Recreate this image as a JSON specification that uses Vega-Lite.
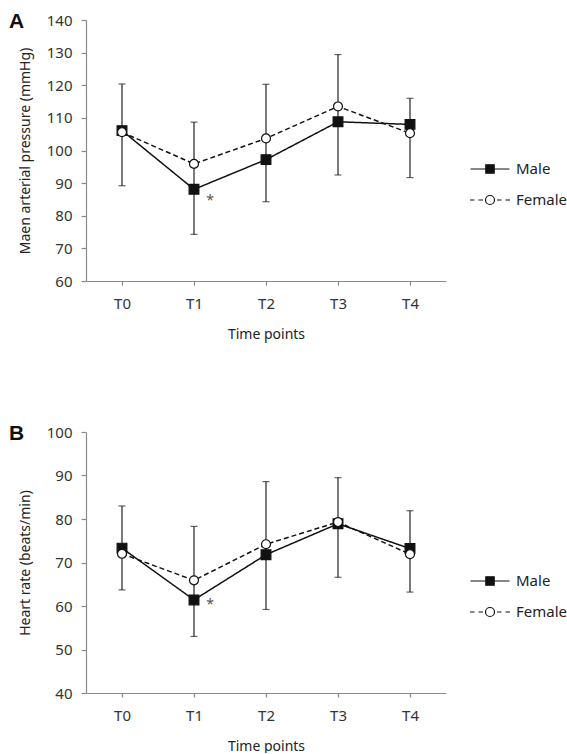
{
  "$schema": "https://vega.github.io/schema/vega-lite/v6.json",
  "background": "white",
  "padding": {"left": 9, "top": 11, "right": 0, "bottom": 0},
  "datasets": {
    "map": [
      {"time": "T0", "sex": "Male", "value": 106.1},
      {"time": "T1", "sex": "Male", "value": 88.1},
      {"time": "T2", "sex": "Male", "value": 97.2},
      {"time": "T3", "sex": "Male", "value": 108.8},
      {"time": "T4", "sex": "Male", "value": 108.0},
      {"time": "T0", "sex": "Female", "value": 105.6},
      {"time": "T1", "sex": "Female", "value": 95.9},
      {"time": "T2", "sex": "Female", "value": 103.7},
      {"time": "T3", "sex": "Female", "value": 113.5},
      {"time": "T4", "sex": "Female", "value": 105.3}
    ],
    "mapErr": [
      {"time": "T0", "lo": 89.2, "hi": 120.4},
      {"time": "T1", "lo": 74.3, "hi": 108.7},
      {"time": "T2", "lo": 84.3, "hi": 120.3},
      {"time": "T3", "lo": 92.5, "hi": 129.4},
      {"time": "T4", "lo": 91.7, "hi": 116.0}
    ],
    "mapStar": [{"time": "T1", "value": 84.5, "label": "*"}],
    "hr": [
      {"time": "T0", "sex": "Male", "value": 73.3},
      {"time": "T1", "sex": "Male", "value": 61.4},
      {"time": "T2", "sex": "Male", "value": 71.8},
      {"time": "T3", "sex": "Male", "value": 78.9},
      {"time": "T4", "sex": "Male", "value": 73.2},
      {"time": "T0", "sex": "Female", "value": 72.0},
      {"time": "T1", "sex": "Female", "value": 65.9},
      {"time": "T2", "sex": "Female", "value": 74.2},
      {"time": "T3", "sex": "Female", "value": 79.3},
      {"time": "T4", "sex": "Female", "value": 71.9}
    ],
    "hrErr": [
      {"time": "T0", "lo": 63.7, "hi": 83.0},
      {"time": "T1", "lo": 53.0, "hi": 78.3},
      {"time": "T2", "lo": 59.2, "hi": 88.6},
      {"time": "T3", "lo": 66.6, "hi": 89.5},
      {"time": "T4", "lo": 63.2, "hi": 81.9}
    ],
    "hrStar": [{"time": "T1", "value": 60.3, "label": "*"}]
  },
  "config": {
    "font": "Noto Sans",
    "view": {"stroke": null},
    "axis": {
      "grid": false,
      "domainColor": "#8a8a8a",
      "tickColor": "#8a8a8a",
      "domainWidth": 1.2,
      "tickWidth": 1.2,
      "labelColor": "#333333",
      "titleColor": "#222222",
      "labelFontSize": 15,
      "titleFontSize": 14,
      "titleFontWeight": "normal",
      "labelOverlap": false,
      "labelSeparation": 0
    },
    "axisY": {"labelOverlap": false, "tickSize": 5, "labelPadding": 9, "titlePadding": 14},
    "title": {"font": "Liberation Sans", "fontSize": 21, "fontWeight": "bold", "color": "#111111", "anchor": "start", "frame": "group", "dx": -77, "offset": -19},
    "legend": {
      "orient": "none", "legendX": 393, "legendY": 138, "title": null, "padding": 0,
      "symbolSize": 400, "symbolOpacity": 1, "symbolStrokeWidth": 1.2,
      "labelOffset": 15, "rowPadding": 12, "labelFontSize": 15, "labelColor": "#222222"
    }
  },
  "spacing": 82,
  "resolve": {
    "scale": {"y": "independent", "shape": "independent", "fill": "independent", "stroke": "independent"},
    "legend": {"shape": "independent", "fill": "independent", "stroke": "independent"}
  },
  "vconcat": [
    {
      "width": 360,
      "height": 261,
      "title": {"text": "A"},
      "resolve": {"scale": {"shape": "independent", "fill": "independent", "stroke": "independent"}, "legend": {"shape": "independent", "fill": "independent", "stroke": "independent"}},
      "layer": [
        {
          "data": {"name": "mapErr"},
          "mark": {"type": "rule", "color": "#222222", "strokeWidth": 1.2},
          "encoding": {
            "x": {"field": "time", "type": "ordinal", "scale": {"type": "point", "padding": 0.5}, "axis": {"title": "Time points", "labelAngle": 0, "tickSize": 4, "labelPadding": 11, "titlePadding": 16}},
            "y": {"field": "lo", "type": "quantitative", "scale": {"domain": [60, 140], "nice": false, "zero": false}, "axis": {"title": "Maen arterial pressure (mmHg)", "values": [60, 70, 80, 90, 100, 110, 120, 130, 140], "labelOverlap": false}},
            "y2": {"field": "hi"}
          }
        },
        {
          "data": {"name": "mapErr"},
          "mark": {"type": "tick", "color": "#222222", "thickness": 1.2, "size": 7},
          "encoding": {
            "x": {"field": "time", "type": "ordinal"},
            "y": {"field": "lo", "type": "quantitative", "axis": {"title": "Maen arterial pressure (mmHg)", "values": [60, 70, 80, 90, 100, 110, 120, 130, 140], "labelOverlap": false}}
          }
        },
        {
          "data": {"name": "mapErr"},
          "mark": {"type": "tick", "color": "#222222", "thickness": 1.2, "size": 7},
          "encoding": {
            "x": {"field": "time", "type": "ordinal"},
            "y": {"field": "hi", "type": "quantitative", "axis": {"title": "Maen arterial pressure (mmHg)", "values": [60, 70, 80, 90, 100, 110, 120, 130, 140], "labelOverlap": false}}
          }
        },
        {
          "data": {"name": "map"},
          "mark": {"type": "line", "color": "#111111", "strokeWidth": 1.5},
          "encoding": {
            "x": {"field": "time", "type": "ordinal"},
            "y": {"field": "value", "type": "quantitative", "axis": {"title": "Maen arterial pressure (mmHg)", "values": [60, 70, 80, 90, 100, 110, 120, 130, 140], "labelOverlap": false}},
            "strokeDash": {"field": "sex", "type": "nominal", "scale": {"domain": ["Male", "Female"], "range": [[1, 0], [5, 3]]}, "legend": null}
          }
        },
        {
          "data": {"name": "map"},
          "mark": {"type": "point", "filled": true, "stroke": "#111111", "strokeWidth": 1.2, "opacity": 1},
          "encoding": {
            "x": {"field": "time", "type": "ordinal"},
            "y": {"field": "value", "type": "quantitative", "axis": {"title": "Maen arterial pressure (mmHg)", "values": [60, 70, 80, 90, 100, 110, 120, 130, 140], "labelOverlap": false}},
            "fill": {"condition": {"test": "datum.sex === 'Male'", "value": "#111111"}, "value": "#ffffff"},
            "size": {"condition": {"test": "datum.sex === 'Male'", "value": 95}, "value": 80},
            "shape": {"field": "sex", "type": "nominal", "scale": {"domain": ["Male", "Female"], "range": ["square", "circle"]}, "legend": null}
          }
        },
        {
          "data": {"name": "map"},
          "mark": {"type": "point", "filled": true, "strokeWidth": 1.2, "opacity": 0},
          "encoding": {
            "x": {"field": "time", "type": "ordinal"},
            "y": {"field": "value", "type": "quantitative", "axis": {"title": "Maen arterial pressure (mmHg)", "values": [60, 70, 80, 90, 100, 110, 120, 130, 140], "labelOverlap": false}},
            "fill": {"field": "sex", "type": "nominal", "scale": {"domain": ["Male", "Female"], "range": ["#111111", "#ffffff"]}},
            "stroke": {"field": "sex", "type": "nominal", "scale": {"domain": ["Male", "Female"], "range": ["#111111", "#111111"]}},
            "shape": {"field": "sex", "type": "nominal", "scale": {"domain": ["Male", "Female"], "range": ["M-1.95,0H1.95M-0.42,-0.42H0.42V0.42H-0.42Z", "M-2,0H-1.55M-1.15,0H-0.7M0.7,0H1.15M1.55,0H2M0.45,0A0.45,0.45 0 1,1 -0.45,0A0.45,0.45 0 1,1 0.45,0Z"]}}
          }
        },
        {
          "data": {"name": "mapStar"},
          "mark": {"type": "text", "dx": 16, "color": "#555555", "fontSize": 14, "baseline": "middle"},
          "encoding": {
            "x": {"field": "time", "type": "ordinal"},
            "y": {"field": "value", "type": "quantitative", "axis": {"title": "Maen arterial pressure (mmHg)", "values": [60, 70, 80, 90, 100, 110, 120, 130, 140], "labelOverlap": false}},
            "text": {"field": "label"}
          }
        }
      ]
    },
    {
      "width": 360,
      "height": 261,
      "title": {"text": "B"},
      "resolve": {"scale": {"shape": "independent", "fill": "independent", "stroke": "independent"}, "legend": {"shape": "independent", "fill": "independent", "stroke": "independent"}},
      "layer": [
        {
          "data": {"name": "hrErr"},
          "mark": {"type": "rule", "color": "#222222", "strokeWidth": 1.2},
          "encoding": {
            "x": {"field": "time", "type": "ordinal", "scale": {"type": "point", "padding": 0.5}, "axis": {"title": "Time points", "labelAngle": 0, "tickSize": 4, "labelPadding": 11, "titlePadding": 16}},
            "y": {"field": "lo", "type": "quantitative", "scale": {"domain": [40, 100], "nice": false, "zero": false}, "axis": {"title": "Heart rate (beats/min)", "values": [40, 50, 60, 70, 80, 90, 100], "labelOverlap": false}},
            "y2": {"field": "hi"}
          }
        },
        {
          "data": {"name": "hrErr"},
          "mark": {"type": "tick", "color": "#222222", "thickness": 1.2, "size": 7},
          "encoding": {
            "x": {"field": "time", "type": "ordinal"},
            "y": {"field": "lo", "type": "quantitative", "axis": {"title": "Heart rate (beats/min)", "values": [40, 50, 60, 70, 80, 90, 100], "labelOverlap": false}}
          }
        },
        {
          "data": {"name": "hrErr"},
          "mark": {"type": "tick", "color": "#222222", "thickness": 1.2, "size": 7},
          "encoding": {
            "x": {"field": "time", "type": "ordinal"},
            "y": {"field": "hi", "type": "quantitative", "axis": {"title": "Heart rate (beats/min)", "values": [40, 50, 60, 70, 80, 90, 100], "labelOverlap": false}}
          }
        },
        {
          "data": {"name": "hr"},
          "mark": {"type": "line", "color": "#111111", "strokeWidth": 1.5},
          "encoding": {
            "x": {"field": "time", "type": "ordinal"},
            "y": {"field": "value", "type": "quantitative", "axis": {"title": "Heart rate (beats/min)", "values": [40, 50, 60, 70, 80, 90, 100], "labelOverlap": false}},
            "strokeDash": {"field": "sex", "type": "nominal", "scale": {"domain": ["Male", "Female"], "range": [[1, 0], [5, 3]]}, "legend": null}
          }
        },
        {
          "data": {"name": "hr"},
          "mark": {"type": "point", "filled": true, "stroke": "#111111", "strokeWidth": 1.2, "opacity": 1},
          "encoding": {
            "x": {"field": "time", "type": "ordinal"},
            "y": {"field": "value", "type": "quantitative", "axis": {"title": "Heart rate (beats/min)", "values": [40, 50, 60, 70, 80, 90, 100], "labelOverlap": false}},
            "fill": {"condition": {"test": "datum.sex === 'Male'", "value": "#111111"}, "value": "#ffffff"},
            "size": {"condition": {"test": "datum.sex === 'Male'", "value": 95}, "value": 80},
            "shape": {"field": "sex", "type": "nominal", "scale": {"domain": ["Male", "Female"], "range": ["square", "circle"]}, "legend": null}
          }
        },
        {
          "data": {"name": "hr"},
          "mark": {"type": "point", "filled": true, "strokeWidth": 1.2, "opacity": 0},
          "encoding": {
            "x": {"field": "time", "type": "ordinal"},
            "y": {"field": "value", "type": "quantitative", "axis": {"title": "Heart rate (beats/min)", "values": [40, 50, 60, 70, 80, 90, 100], "labelOverlap": false}},
            "fill": {"field": "sex", "type": "nominal", "scale": {"domain": ["Male", "Female"], "range": ["#111111", "#ffffff"]}},
            "stroke": {"field": "sex", "type": "nominal", "scale": {"domain": ["Male", "Female"], "range": ["#111111", "#111111"]}},
            "shape": {"field": "sex", "type": "nominal", "scale": {"domain": ["Male", "Female"], "range": ["M-1.95,0H1.95M-0.42,-0.42H0.42V0.42H-0.42Z", "M-2,0H-1.55M-1.15,0H-0.7M0.7,0H1.15M1.55,0H2M0.45,0A0.45,0.45 0 1,1 -0.45,0A0.45,0.45 0 1,1 0.45,0Z"]}}
          }
        },
        {
          "data": {"name": "hrStar"},
          "mark": {"type": "text", "dx": 16, "color": "#555555", "fontSize": 14, "baseline": "middle"},
          "encoding": {
            "x": {"field": "time", "type": "ordinal"},
            "y": {"field": "value", "type": "quantitative", "axis": {"title": "Heart rate (beats/min)", "values": [40, 50, 60, 70, 80, 90, 100], "labelOverlap": false}},
            "text": {"field": "label"}
          }
        }
      ]
    }
  ]
}
